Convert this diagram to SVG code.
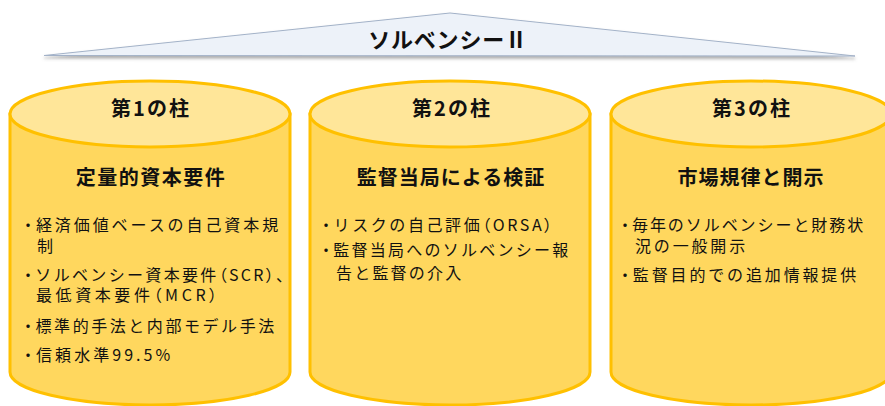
<svg xmlns="http://www.w3.org/2000/svg" width="885" height="406" viewBox="0 0 885 406">
<defs>
<filter id="sh" x="-5%" y="-20%" width="110%" height="160%">
<feDropShadow dx="0" dy="2.5" stdDeviation="1.6" flood-color="#6b6b6b" flood-opacity="0.55"/>
</filter>
</defs>
<style>
.body{fill:#FFD75E;stroke:#FFC000;stroke-width:3}
.top{fill:#FFE699;stroke:#FFC000;stroke-width:3}
.h{font-family:"Noto Sans CJK JP","Noto Sans",sans-serif;font-weight:bold;font-size:20px;fill:#111;text-anchor:middle}
.t{font-family:"Noto Sans CJK JP","Noto Sans",sans-serif;font-size:16px;fill:#111;letter-spacing:2.8px}
.p{font-feature-settings:"palt"}
.roof{fill:#EDF2F9;stroke:#A3B2C8;stroke-width:1}
.rt{font-family:"Noto Sans CJK JP","Noto Sans",sans-serif;font-weight:bold;font-size:22px;fill:#111;text-anchor:middle;letter-spacing:0.8px}
</style>
<g id="roof">
<polygon class="roof" points="44,55.5 450,13 855,56" filter="url(#sh)"/>
<text class="rt" x="448" y="47.5">ソルベンシーⅡ</text>
</g>
<g id="pillar1">
<path class="body" d="M10,114 L10,372 A140,33 0 0 0 290,372 L290,114 Z"/>
<ellipse class="top" cx="150" cy="114" rx="140" ry="33"/>
<text class="h" x="151" y="116" letter-spacing="2">第1の柱</text>
<text class="h" x="151" y="185" letter-spacing="1.5">定量的資本要件</text>
<text class="t" x="20" y="231" textLength="261" lengthAdjust="spacing">・<tspan dx="-3">経</tspan>済価値ベースの自己資本規</text>
<text class="t" x="37" y="251.5">制</text>
<text class="t" x="20" y="281" textLength="267" lengthAdjust="spacing">・<tspan dx="-3">ソ</tspan>ルベンシー資本要件<tspan class="p">（SCR）、</tspan></text>
<text class="t" x="36" y="301" textLength="184" lengthAdjust="spacing">最低資本要件<tspan class="p">（MCR）</tspan></text>
<text class="t" x="20" y="332" textLength="257" lengthAdjust="spacing">・<tspan dx="-3">標</tspan>準的手法と内部モデル手法</text>
<text class="t" x="20" y="361" textLength="153" lengthAdjust="spacing">・<tspan dx="-3">信</tspan>頼水準99.5%</text>
</g>
<g id="pillar2">
<path class="body" d="M310,114 L310,372 A140,33 0 0 0 590,372 L590,114 Z"/>
<ellipse class="top" cx="450" cy="114" rx="140" ry="33"/>
<text class="h" x="452" y="116" letter-spacing="2">第2の柱</text>
<text class="h" x="451" y="185" letter-spacing="1">監督当局による検証</text>
<text class="t" x="318" y="231" textLength="237" lengthAdjust="spacing">・<tspan dx="-3">リ</tspan>スクの自己評価<tspan class="p">（ORSA）</tspan></text>
<text class="t" x="318" y="256" textLength="253" lengthAdjust="spacing">・<tspan dx="-3">監</tspan>督当局へのソルベンシー報</text>
<text class="t" x="336" y="278.5" textLength="128" lengthAdjust="spacing">告と監督の介入</text>
</g>
<g id="pillar3">
<path class="body" d="M611,114 L611,372 A140,33 0 0 0 891,372 L891,114 Z"/>
<ellipse class="top" cx="751" cy="114" rx="140" ry="33"/>
<text class="h" x="752" y="116" letter-spacing="2">第3の柱</text>
<text class="h" x="751" y="185" letter-spacing="1">市場規律と開示</text>
<text class="t" x="617" y="231" textLength="249" lengthAdjust="spacing">・<tspan dx="-3">毎</tspan>年のソルベンシーと財務状</text>
<text class="t" x="635" y="252" textLength="113" lengthAdjust="spacing">況の一般開示</text>
<text class="t" x="617" y="281" textLength="242" lengthAdjust="spacing">・<tspan dx="-3">監</tspan>督目的での追加情報提供</text>
</g>
<g id="connectors"></g>
</svg>
